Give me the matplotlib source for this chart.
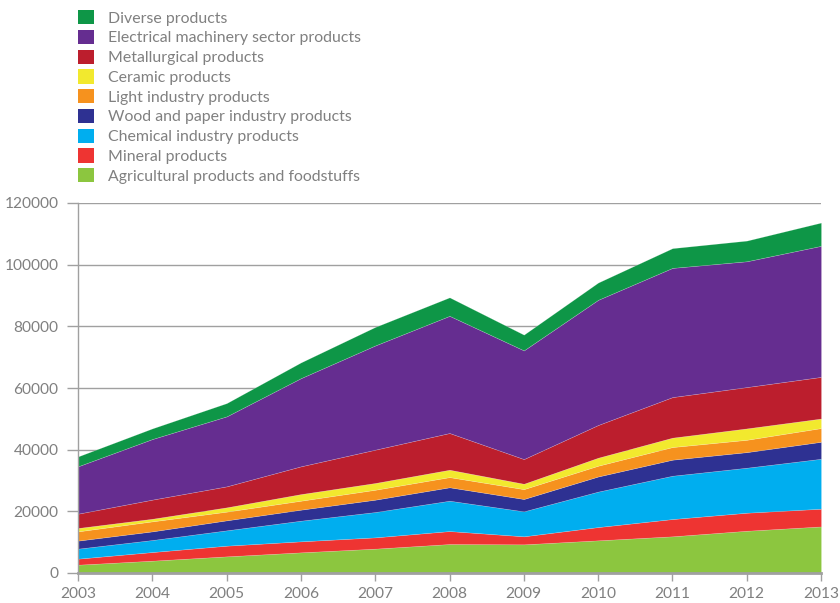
import matplotlib
matplotlib.use("Agg")
import matplotlib.pyplot as plt
from matplotlib.patches import Patch

plt.rcParams['font.family'] = ['Lato', 'DejaVu Sans']

years = [2003, 2004, 2005, 2006, 2007, 2008, 2009, 2010, 2011, 2012, 2013]

agricultural = [2700, 4000, 5400, 6700, 7900, 9400, 9300, 10600, 11900, 13700, 15100]
mineral = [1950, 2800, 3460, 3570, 3660, 4200, 2600, 4300, 5600, 5850, 5750]
chemical = [3250, 3900, 4980, 6700, 8220, 9850, 8100, 11500, 14050, 14600, 16200]
wood_paper = [2600, 2800, 3240, 3570, 4000, 4350, 4000, 4900, 5200, 5050, 5500]
light_industry = [3000, 3250, 2820, 2910, 3220, 3300, 3200, 3500, 4100, 4000, 4450]
ceramic = [1100, 850, 1400, 2150, 2200, 2400, 1750, 2600, 3050, 3700, 3100]
metallurgical = [4640, 6200, 6800, 9000, 10800, 11900, 8000, 10600, 13150, 13400, 13500]
electrical = [15360, 19650, 22700, 28600, 33800, 38000, 35250, 40600, 41900, 40800, 42500]
diverse = [3200, 3450, 4300, 5100, 6000, 6000, 5100, 5600, 6400, 6700, 7550]

labels = [
    "Agricultural products and foodstuffs",
    "Mineral products",
    "Chemical industry products",
    "Wood and paper industry products",
    "Light industry products",
    "Ceramic products",
    "Metallurgical products",
    "Electrical machinery sector products",
    "Diverse products",
]
colors = ["#8cc63f", "#ee3432", "#00aeef", "#2e3192", "#f6921e",
          "#f2e92e", "#bc1e2d", "#652d90", "#0e9647"]
series = [agricultural, mineral, chemical, wood_paper, light_industry,
          ceramic, metallurgical, electrical, diverse]

y_ticks = [0, 20000, 40000, 60000, 80000, 100000, 120000]

text_gray = "#808080"
axis_gray = "#a0a0a0"

fig = plt.figure(figsize=(8.4, 6.03), dpi=100)
ax = fig.add_axes([78 / 840, 30 / 603, 743 / 840, 370 / 603])

ax.stackplot(years, *series, colors=colors, edgecolor="#ffffff40", linewidth=0.4)

ax.set_xlim(years[0], years[-1])
ax.set_ylim(0, 120000)
ax.set_xticks(years)
ax.set_yticks(y_ticks)
ax.set_yticklabels([str(v) for v in y_ticks])

ax.grid(axis="y", color=axis_gray, linewidth=1.0)
ax.set_axisbelow(True)
for side in ("top", "right"):
    ax.spines[side].set_visible(False)
ax.spines["left"].set_color(axis_gray)
ax.spines["bottom"].set_color(axis_gray)
ax.spines["bottom"].set_linewidth(2.0)
ax.spines["left"].set_linewidth(1.0)
ax.spines["bottom"].set_zorder(5)

ax.tick_params(axis="y", length=8, width=1, color=axis_gray, labelcolor=text_gray,
               labelsize=11.2, pad=6)
ax.tick_params(axis="x", length=6, width=1, color=axis_gray, labelcolor=text_gray,
               labelsize=11.2, pad=4)

handles = [Patch(facecolor=c, edgecolor="none") for c in colors][::-1]
fig.legend(handles, labels[::-1], loc="upper left",
           bbox_to_anchor=(78 / 840, 1 - 10 / 603), frameon=False,
           fontsize=11.4, labelcolor=text_gray, handlelength=1.0,
           handleheight=1.0, handletextpad=0.88, labelspacing=0.27,
           borderpad=0, borderaxespad=0)

fig.savefig("out.png", dpi=100)
